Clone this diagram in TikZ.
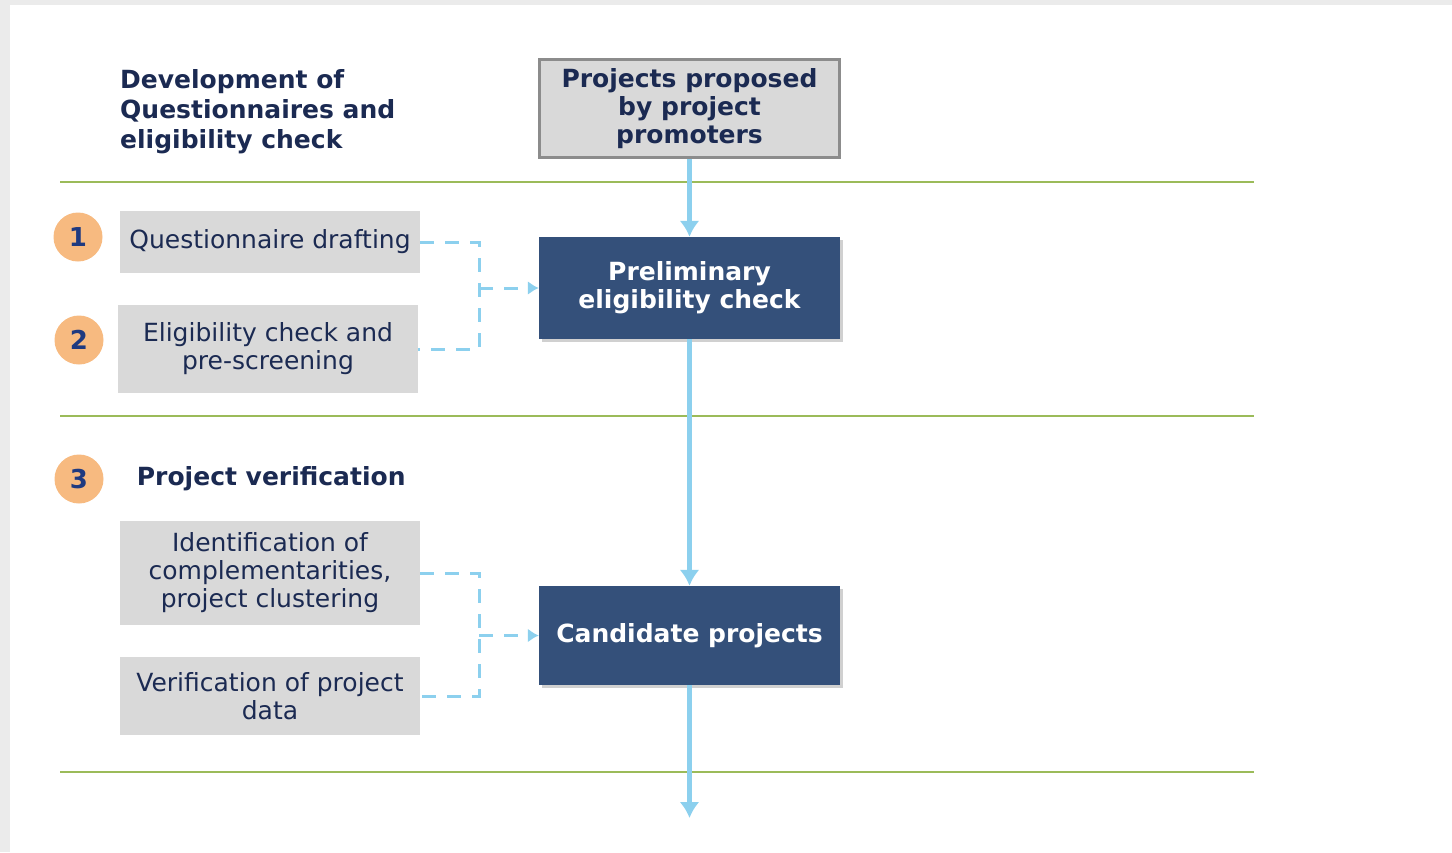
\documentclass[tikz,border=0pt]{standalone}
\usepackage{fontspec}
\setmainfont{DejaVu Sans}
\usepackage{xcolor}
\usepackage{tikz}
\usetikzlibrary{arrows.meta, positioning, shadows}

\definecolor{navy}{HTML}{1B2A52}
\definecolor{boxgray}{HTML}{D9D9D9}
\definecolor{edgegray}{HTML}{8C8C8C}
\definecolor{darkblue}{HTML}{34507A}
\definecolor{skyblue}{HTML}{8CD0EE}
\definecolor{olive}{HTML}{9BBB59}
\definecolor{peach}{HTML}{F7BA80}
\definecolor{numblue}{HTML}{1F3A80}
\definecolor{framegray}{HTML}{EBEBEB}

\begin{document}
\begin{tikzpicture}[
	  x=1pt, y=-1pt,
	  font=\fontsize{25}{28}\selectfont,
	  node distance=33pt,
	  task/.style={
	    fill=boxgray,
	    text=navy,
	    align=center,
	    minimum width=300pt,
	    inner sep=0pt
	  },
	  stage/.style={
	    fill=darkblue,
	    text=white,
	    font=\fontsize{25}{28}\selectfont\bfseries,
	    align=center,
	    minimum width=301pt,
	    inner sep=0pt,
	    drop shadow={shadow xshift=3pt, shadow yshift=-3pt, opacity=0.3, fill=black!60}
	  },
	  num/.style={circle, fill=peach, text=numblue, minimum size=49pt, inner sep=0pt,
	    font=\fontsize{26}{26}\selectfont\bfseries},
	  heading/.style={text=navy, font=\fontsize{25}{30}\selectfont\bfseries, align=left, inner sep=0pt},
	  divider/.style={olive, line width=2pt},
	  flow/.style={-{Latex[length=16pt,width=20pt]}, skyblue, line width=5pt},
	  feed/.style={skyblue, line width=3pt, dash pattern=on 14pt off 11pt},
	  feedarrow/.style={feed, -{Latex[length=11pt,width=14pt]}}
	]
	
	\fill[framegray] (0,0) rectangle (1452,852);
	\fill[white] (10,5) rectangle (1452,852);
	\useasboundingbox (0,0) rectangle (1452,852);
	
	\draw[divider] (60,182) -- (1254,182);
	\draw[divider] (60,416) -- (1254,416);
	\draw[divider] (60,772) -- (1254,772);
	
	\node[heading, anchor=west] (intro) at (120,112) {Development of\\Questionnaires and\\eligibility check};
	\node[draw=edgegray, line width=3pt, fill=boxgray, text=navy, align=center,
	  font=\fontsize{25}{28}\selectfont\bfseries, minimum width=300pt, minimum height=98pt, inner sep=0pt]
	  (proposed) at (689.5,108.5) {Projects proposed\\by project\\promoters};
	
	\node[num] (n1) at (78,237) {1};
	\node[num] (n2) at (79,340) {2};
	\node[num] (n3) at (79,479) {3};
	\node[heading, right=of n3] (verify) {Project verification};
	
	\node[task, minimum height=62pt] (drafting) at (270,242) {Questionnaire drafting};
	\node[task, minimum height=88pt] (screening) at (268,349) {Eligibility check and\\pre-screening};
	\node[task, minimum height=104pt] (clustering) at (270,573) {Identification of\\complementarities,\\project clustering};
	\node[task, minimum height=78pt] (checkdata) at (270,696) {Verification of project\\data};
	
	\node[stage, minimum height=102pt] (prelim) at (689.5,288) {Preliminary\\eligibility check};
	\node[stage, minimum height=99pt] (candidate) at (689.5,635.5) {Candidate projects};
	
	\coordinate (join1) at (479,288);
	\coordinate (join2) at (479,635.5);
	\coordinate (exit) at (689.5,818);
	
	\draw[flow] (proposed) -- (prelim);
	\draw[flow] (prelim) -- (candidate);
	\draw[flow] (candidate) -- (exit);
	
	\draw[feed] (drafting.east) -| (join1) |- (screening.east);
	\draw[feedarrow] (join1) -- (prelim.west);
	\draw[feed] (clustering.east) -| (join2) |- (checkdata.east);
	\draw[feedarrow] (join2) -- (candidate.west);
	
	\end{tikzpicture}
\end{document}
